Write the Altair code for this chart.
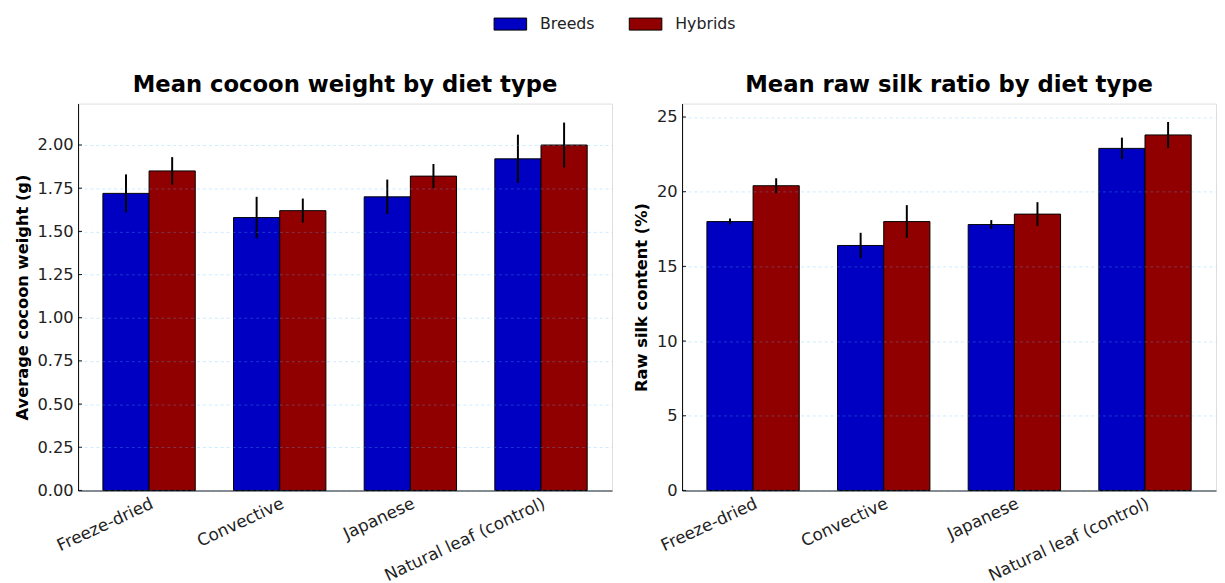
import altair as alt
import pandas as pd

diets = ["Freeze-dried", "Convective", "Japanese", "Natural leaf (control)"]
groups = ["Breeds", "Hybrids"]

weight_breeds = [1.72, 1.58, 1.70, 1.92]
weight_breeds_err = [0.11, 0.12, 0.10, 0.14]
weight_hybrids = [1.85, 1.62, 1.82, 2.00]
weight_hybrids_err = [0.08, 0.07, 0.07, 0.13]

silk_breeds = [18.0, 16.4, 17.8, 22.9]
silk_breeds_err = [0.2, 0.85, 0.3, 0.72]
silk_hybrids = [20.4, 18.0, 18.5, 23.8]
silk_hybrids_err = [0.5, 1.1, 0.8, 0.87]

weight_ticks = [0.0, 0.25, 0.5, 0.75, 1.0, 1.25, 1.5, 1.75, 2.0]
silk_ticks = [0, 5, 10, 15, 20, 25]

colors = ["#0000c2", "#900000"]
FONT = "DejaVu Sans"
W, H = 541, 392


def make_df(b, be, h, he):
    rows = []
    for i, d in enumerate(diets):
        rows.append({"diet": d, "group": "Breeds", "mean": b[i], "lo": b[i] - be[i], "hi": b[i] + be[i]})
        rows.append({"diet": d, "group": "Hybrids", "mean": h[i], "lo": h[i] - he[i], "hi": h[i] + he[i]})
    return pd.DataFrame(rows)


def panel(df, ticks, ymax, title, ytitle, fmt, legend):
    xenc = alt.X("diet:N", sort=diets, title=None,
                 scale=alt.Scale(paddingInner=0.293, paddingOuter=0.19),
                 axis=alt.Axis(labelAngle=-25, labelAlign="right", labelBaseline="top",
                               labelFontSize=17, labelFont=FONT, labelColor="#222",
                               ticks=False, labelPadding=5, domainColor="#666",
                               domainWidth=1.5, grid=False))
    yscale = alt.Scale(domain=[0, ymax], nice=False, zero=True)
    yenc = alt.Y("mean:Q", title=ytitle, scale=yscale,
                 axis=alt.Axis(values=ticks, format=fmt, labelFontSize=16.5, labelFont=FONT,
                               labelColor="#222", ticks=False, labelPadding=5,
                               titleFontSize=16.5, titleFont=FONT, titleFontWeight="bold",
                               titleColor="black", titlePadding=7,
                               domainColor="black", domainWidth=1,
                               grid=True, gridColor="#55bbff", gridOpacity=0.3,
                               gridDash=[3, 3], gridWidth=1, zindex=1))
    bars = alt.Chart(df).mark_bar(stroke="black", strokeWidth=1, opacity=1).encode(
        x=xenc,
        xOffset=alt.XOffset("group:N", sort=groups, scale=alt.Scale(paddingInner=0, paddingOuter=0)),
        y=yenc,
        color=alt.Color("group:N", sort=groups,
                        scale=alt.Scale(domain=groups, range=colors),
                        legend=legend),
    )
    err = alt.Chart(df).mark_rule(color="black", strokeWidth=2).encode(
        x=alt.X("diet:N", sort=diets),
        xOffset=alt.XOffset("group:N", sort=groups),
        y=alt.Y("lo:Q", scale=yscale),
        y2="hi:Q",
    )
    tdf = pd.DataFrame({"t": ticks})
    tick_marks = alt.Chart(tdf).mark_rule(color="black", strokeWidth=1).encode(
        y=alt.Y("t:Q", scale=yscale),
        x=alt.value(0), x2=alt.value(4),
    )
    return alt.layer(bars, err, tick_marks).properties(
        width=W, height=H,
        title=alt.TitleParams(title, fontSize=23, font=FONT, fontWeight="bold",
                              color="black", offset=7),
    )


legend = alt.Legend(title=None, orient="none", direction="horizontal",
                    legendX=421, legendY=-98, padding=0,
                    symbolType="M-1,-0.37H1V0.37H-1Z", symbolSize=1089,
                    symbolStrokeColor="black", symbolStrokeWidth=1, symbolOpacity=1,
                    labelFontSize=16, labelFont=FONT, labelColor="#222",
                    labelOffset=13, columnPadding=32)

left = panel(make_df(weight_breeds, weight_breeds_err, weight_hybrids, weight_hybrids_err),
             weight_ticks, 2.24, "Mean cocoon weight by diet type",
             "Average cocoon weight (g)", ".2f", legend)
right = panel(make_df(silk_breeds, silk_breeds_err, silk_hybrids, silk_hybrids_err),
              silk_ticks, 25.9, "Mean raw silk ratio by diet type",
              "Raw silk content (%)", "d", legend)

chart = alt.hconcat(left, right, spacing=20).resolve_scale(color="shared").properties(
    padding={"left": 5, "top": -5, "right": 0, "bottom": 0}
).configure_view(stroke=None).configure(background="white")

chart.save("out.html", embed_options={"renderer": "svg", "actions": False})
